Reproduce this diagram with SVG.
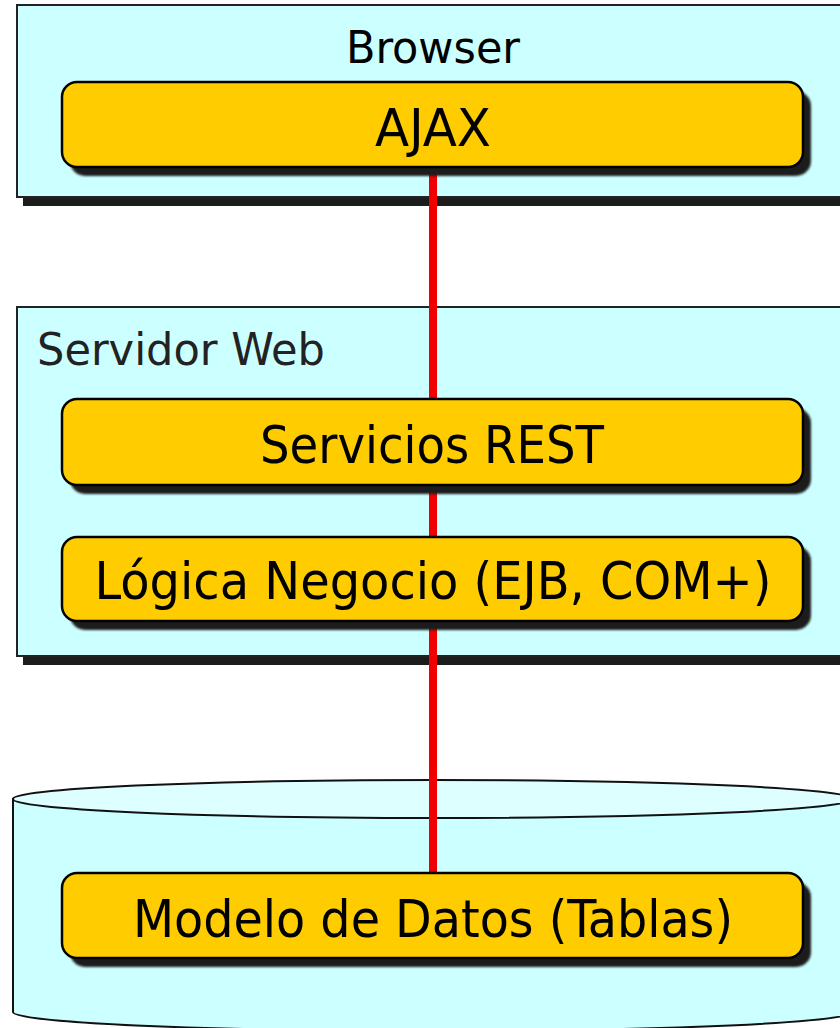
<svg xmlns="http://www.w3.org/2000/svg" width="840" height="1028" viewBox="0 0 840 1028">
  <defs>
    <filter id="soft" x="-5%" y="-20%" width="110%" height="140%">
      <feGaussianBlur stdDeviation="1.2"/>
    </filter>
  </defs>
  <style>
    .cont { fill: #CCFFFF; stroke: #222222; stroke-width: 2; }
    .cshadow { fill: #1c1c1c; }
    .node { fill: #FFCC00; stroke: #000000; stroke-width: 2.5; }
    .nshadow { fill: #1c1c1c; filter: url(#soft); }
    .lbl { font-family: "DejaVu Sans Condensed", "DejaVu Sans", sans-serif; font-size: 52px; fill: #000; text-anchor: middle; }
    .clbl { font-family: "DejaVu Sans Condensed", "DejaVu Sans", sans-serif; font-size: 45px; }
    .conn { stroke: #F00000; stroke-width: 8; fill: none; }
  </style>

  <!-- Containers -->
  <g id="browser">
    <rect class="cshadow" x="23" y="14" width="840" height="192"/>
    <rect class="cont" x="17" y="5" width="840" height="192"/>
    <text class="clbl" x="433" y="63" text-anchor="middle" fill="#000" textLength="174" lengthAdjust="spacingAndGlyphs">Browser</text>
  </g>

  <g id="servidor-web">
    <rect class="cshadow" x="23" y="316" width="840" height="349"/>
    <rect class="cont" x="17" y="307" width="840" height="349"/>
    <text class="clbl" x="37" y="365" fill="#222" textLength="288" lengthAdjust="spacingAndGlyphs">Servidor Web</text>
  </g>

  <g id="base-datos">
    <path d="M13,799 L13,1012 A420,19 0 0 0 853,1012 L853,799 Z" fill="#CCFFFF" stroke="#111" stroke-width="2"/>
    <ellipse cx="433" cy="799" rx="420" ry="19" fill="#DDFFFF" stroke="#111" stroke-width="2"/>
  </g>

  <!-- Connectors -->
  <g id="connectors">
    <line class="conn" x1="433" y1="166" x2="433" y2="399"/>
    <line class="conn" x1="433" y1="483" x2="433" y2="537"/>
    <line class="conn" x1="433" y1="619" x2="433" y2="873"/>
  </g>

  <!-- Nodes -->
  <g id="ajax">
    <rect class="nshadow" x="70" y="91" width="741" height="85" rx="15"/>
    <rect class="node" x="62" y="82" width="741" height="85" rx="15"/>
    <text class="lbl" x="433" y="146" textLength="116" lengthAdjust="spacingAndGlyphs">AJAX</text>
  </g>

  <g id="servicios-rest">
    <rect class="nshadow" x="70" y="408" width="741" height="86" rx="15"/>
    <rect class="node" x="62" y="399" width="741" height="86" rx="15"/>
    <text class="lbl" x="432" y="463" textLength="344" lengthAdjust="spacingAndGlyphs">Servicios REST</text>
  </g>

  <g id="logica-negocio">
    <rect class="nshadow" x="70" y="546" width="741" height="84" rx="15"/>
    <rect class="node" x="62" y="537" width="741" height="84" rx="15"/>
    <text class="lbl" x="433" y="599" textLength="677" lengthAdjust="spacingAndGlyphs">Lógica Negocio (EJB, COM+)</text>
  </g>

  <g id="modelo-datos">
    <rect class="nshadow" x="70" y="882" width="741" height="85" rx="15"/>
    <rect class="node" x="62" y="873" width="741" height="85" rx="15"/>
    <text class="lbl" x="433" y="937" textLength="600" lengthAdjust="spacingAndGlyphs">Modelo de Datos (Tablas)</text>
  </g>
</svg>
